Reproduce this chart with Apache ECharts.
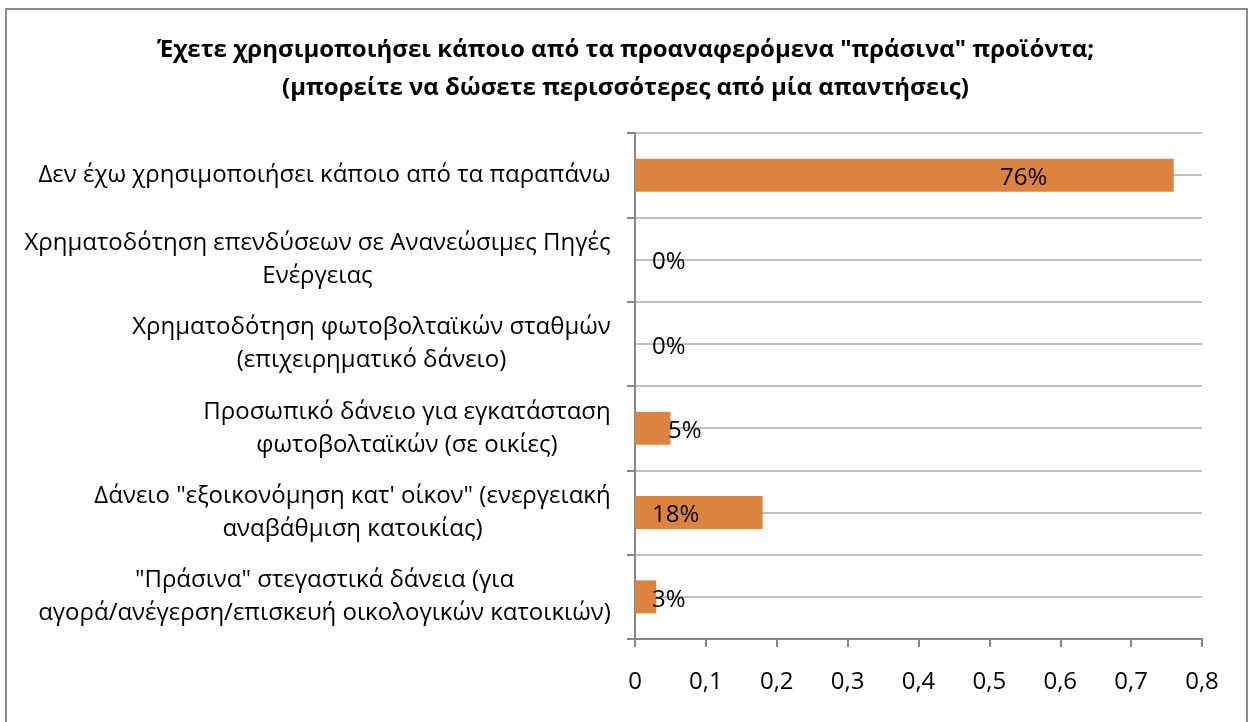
<!DOCTYPE html>
<html>
<head>
<meta charset="utf-8">
<script src="https://cdn.jsdelivr.net/npm/echarts@6/dist/echarts.min.js"></script>
<style>
html,body{margin:0;padding:0;background:#fff;overflow:hidden;}
#wrap{position:relative;width:1251px;height:722px;}
#chart{position:absolute;left:0;top:0;width:1251px;height:722px;}
#frame{position:absolute;left:5px;top:8px;width:1243px;height:760px;box-sizing:border-box;border:2px solid #8c8c8c;pointer-events:none;}
</style>
</head>
<body>
<div id="wrap"><div id="chart"></div><div id="frame"></div></div>
<script>
// ---- data ----
const titleText = 'Έχετε χρησιμοποιήσει κάποιο από τα προαναφερόμενα "πράσινα" προϊόντα;\n(μπορείτε να δώσετε περισσότερες από μία απαντήσεις)';
const categories = [
  'Δεν έχω χρησιμοποιήσει κάποιο από τα παραπάνω',
  'Χρηματοδότηση επενδύσεων σε Ανανεώσιμες Πηγές\nΕνέργειας',
  'Χρηματοδότηση φωτοβολταϊκών σταθμών\n(επιχειρηματικό δάνειο)',
  'Προσωπικό δάνειο για εγκατάσταση\nφωτοβολταϊκών (σε οικίες)',
  'Δάνειο "εξοικονόμηση κατ\' οίκον" (ενεργειακή\nαναβάθμιση κατοικίας)',
  '"Πράσινα" στεγαστικά δάνεια (για\nαγορά/ανέγερση/επισκευή οικολογικών κατοικιών)'
];
const values = [0.76, 0, 0, 0.05, 0.18, 0.03];
const axisMin = 0, axisMax = 0.8, axisStep = 0.1;

// ---- style (label nudges, not data) ----
const labelShift = [348, 0, 0, 16, 0, 0];

const FONT = '"Open Sans", "Noto Sans", sans-serif';
const LABEL_SIZE = 24;
const LINE_H = 33;

const ctx = document.createElement('canvas').getContext('2d');
ctx.font = LABEL_SIZE + 'px "Open Sans"';
const rich = {};
categories.forEach((c, i) => {
  const w = Math.max(...c.split('\n').map(l => ctx.measureText(l).width));
  rich['c' + i] = {width: Math.ceil(w) + 2, align: 'center', fontSize: LABEL_SIZE, lineHeight: LINE_H, fontFamily: FONT, color: '#000'};
});

const chart = echarts.init(document.getElementById('chart'), null, {renderer: 'canvas'});
const halfTicks = Array.from({length: categories.length * 2 + 1}, (_, i) => String(i));

const option = {
  animation: false,
  backgroundColor: '#fff',
  title: {
    text: titleText,
    left: 'center',
    top: 26,
    textStyle: {fontFamily: FONT, fontWeight: 'bold', fontSize: 24, lineHeight: 38, color: '#000'}
  },
  grid: {left: 635, right: 49, top: 133, bottom: 83, containLabel: false},
  xAxis: {
    type: 'value',
    min: axisMin, max: axisMax, interval: axisStep,
    axisLine: {show: true, lineStyle: {color: '#868686', width: 2}},
    axisTick: {show: true, length: 8, lineStyle: {color: '#868686', width: 2}},
    splitLine: {show: false},
    axisLabel: {
      margin: 31, fontSize: 24, fontFamily: FONT, color: '#000',
      formatter: v => v === 0 ? '0' : v.toFixed(1).replace('.', ',')
    }
  },
  yAxis: [{
    type: 'category',
    data: categories,
    inverse: true,
    axisLine: {show: true, lineStyle: {color: '#868686', width: 2}},
    axisTick: {show: true, length: 8, lineStyle: {color: '#868686', width: 2}},
    splitLine: {show: false},
    axisLabel: {
      margin: 23, align: 'right',
      formatter: (v, idx) => v.split('\n').map(l => '{c' + idx + '|' + l + '}').join('\n'),
      rich: rich
    }
  }, {
    type: 'category',
    data: halfTicks,
    boundaryGap: false,
    position: 'right',
    axisLine: {show: false},
    axisTick: {show: false},
    axisLabel: {show: false},
    splitLine: {show: true, lineStyle: {color: '#c0c0c0', width: 2}},
    z: 0
  }],
  series: [{
    type: 'bar',
    yAxisIndex: 0,
    barWidth: 33,
    itemStyle: {color: '#DC843F'},
    z: 3,
    data: values.map((v, i) => ({
      value: v,
      label: {
        show: true,
        position: 'insideLeft',
        distance: 17,
        offset: [labelShift[i], 3],
        fontSize: LABEL_SIZE, fontFamily: FONT, color: '#000',
        formatter: p => Math.round(p.value * 100) + '%'
      }
    }))
  }]
};
chart.setOption(option);
</script>
</body>
</html>
